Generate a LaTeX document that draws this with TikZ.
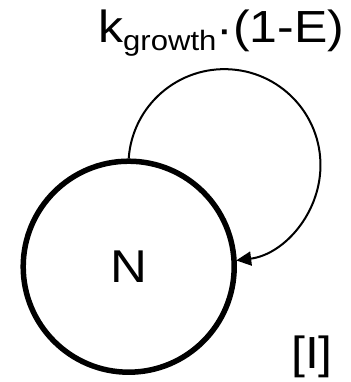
\documentclass[tikz,border=0pt]{standalone}
\usepackage{fontspec}
\setmainfont{Liberation Sans}[FakeStretch=1.11]
\usetikzlibrary{arrows.meta}

\begin{document}
\begin{tikzpicture}[x=1pt, y=1pt,
		state/.style={circle, draw, line width=5.5pt, minimum size=211pt, inner sep=0pt, font=\fontsize{46}{50}\selectfont},
		growth/.style={-{Triangle[length=15pt, width=14pt]}, line width=2pt},
		lbl/.style={anchor=base west, inner sep=0pt, font=\fontsize{45}{50}\selectfont}]

		\useasboundingbox (0,0) rectangle (350,-382);

		% define node

		\node[state] (N) at (128.7,-266.7) {N};

		% self loop

		\draw[growth] (N.north) arc[start angle=176, end angle=-83, radius=96];

		% labels

		\node[lbl] (rate) at (98,-43) {k\raisebox{-8pt}{\fontsize{28}{28}\selectfont growth}\raisebox{-2pt}{·}(1-E)};

		\node[lbl] (tag) at (291,-368.5) {[I]};

	\end{tikzpicture}
\end{document}
